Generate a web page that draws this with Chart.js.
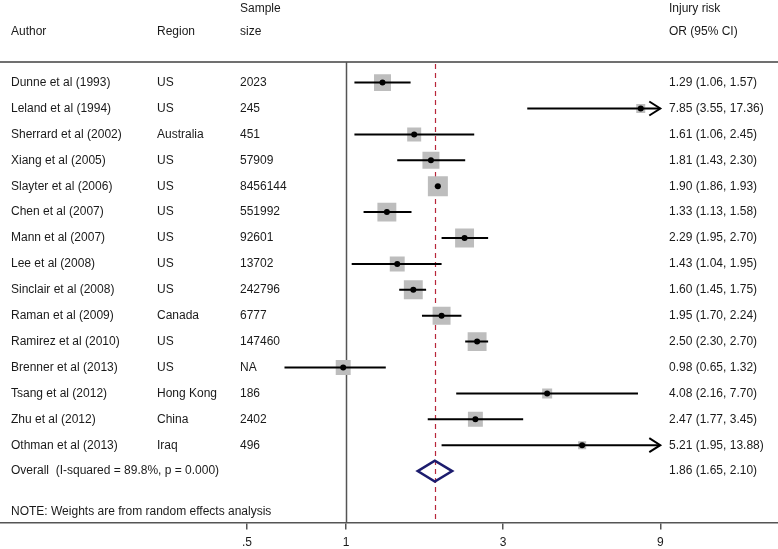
<!DOCTYPE html>
<html><head><meta charset="utf-8">
<script src="https://cdn.jsdelivr.net/npm/chart.js@4/dist/chart.umd.min.js"></script>
<style>html,body{margin:0;padding:0;background:#fff}#wrap{width:778px;height:549px;position:relative}canvas{display:block}</style>
</head><body><div id="wrap"><canvas id="c" width="778" height="549"></canvas></div>
<script>
// ---- data ----
const authors = ["Dunne et al (1993)","Leland et al (1994)","Sherrard et al (2002)","Xiang et al (2005)","Slayter et al (2006)","Chen et al (2007)","Mann et al (2007)","Lee et al (2008)","Sinclair et al (2008)","Raman et al (2009)","Ramirez et al (2010)","Brenner et al (2013)","Tsang et al (2012)","Zhu et al (2012)","Othman et al (2013)"];
const regions = ["US","US","Australia","US","US","US","US","US","US","Canada","US","US","Hong Kong","China","Iraq"];
const sampleSizes = ["2023","245","451","57909","8456144","551992","92601","13702","242796","6777","147460","NA","186","2402","496"];
const orEstimates = [1.29,7.85,1.61,1.81,1.90,1.33,2.29,1.43,1.60,1.95,2.50,0.98,4.08,2.47,5.21];
const ciLower = [1.06,3.55,1.06,1.43,1.86,1.13,1.95,1.04,1.45,1.70,2.30,0.65,2.16,1.77,1.95];
const ciUpper = [1.57,17.36,2.45,2.30,1.93,1.58,2.70,1.95,1.75,2.24,2.70,1.32,7.70,3.45,13.88];
const weights = [7.5,2.1,5.1,7.5,10.4,9.3,9.3,5.8,9.3,8.4,9.3,5.8,2.6,5.8,1.7];
const overallLabel = "Overall  (I-squared = 89.8%, p = 0.000)";
const overallEstimate = 1.86, overallLower = 1.65, overallUpper = 2.10;
const tickValues = [0.5, 1, 3, 9];
const tickLabels = [".5", "1", "3", "9"];
const noteText = "NOTE: Weights are from random effects analysis";
const axisClipMax = 9;

const FONT = '"Liberation Sans", Arial, Helvetica, sans-serif';
const fmt = (v) => v.toFixed(2);
const orText = orEstimates.map((e,i)=> `${fmt(e)} (${fmt(ciLower[i])}, ${fmt(ciUpper[i])})`);
const overallRow = authors.length;

const ciDatasets = authors.map((a,i)=>({
  type:'line', label:a,
  data:[{x:ciLower[i], y:i},{x:Math.min(ciUpper[i], axisClipMax), y:i}],
  borderColor:'#000', borderWidth:2, pointRadius:0, fill:false, order:2
}));

const boxDataset = {
  type:'scatter', label:'weights',
  data: orEstimates.map((e,i)=>({x:e, y:i})),
  pointStyle:'rect', backgroundColor:'#bdbdbd', borderWidth:0,
  pointRadius: weights.map(w => 6.2*Math.sqrt(w)/Math.SQRT2),
  order:3
};
const dotDataset = {
  type:'scatter', label:'estimates',
  data: orEstimates.map((e,i)=>({x:e, y:i})),
  pointStyle:'circle', backgroundColor:'#000', borderWidth:0, pointRadius:3,
  order:1
};

const forestPlugin = {
  id:'forest',
  beforeDatasetsDraw(chart){
    const {ctx, scales:{x,y}, chartArea} = chart;
    const topY = y.getPixelForValue(-0.8);
    ctx.save();
    // top rule
    ctx.strokeStyle = '#707070'; ctx.lineWidth = 2;
    ctx.beginPath(); ctx.moveTo(chartArea.left, topY); ctx.lineTo(chartArea.right, topY); ctx.stroke();
    // null line at 1
    const x1 = Math.round(x.getPixelForValue(1)) + 0.5;
    ctx.strokeStyle = '#555'; ctx.lineWidth = 1.5;
    ctx.beginPath(); ctx.moveTo(x1, topY); ctx.lineTo(x1, chartArea.bottom); ctx.stroke();
    // overall dashed line
    const xo = Math.round(x.getPixelForValue(overallEstimate)) + 0.5;
    ctx.strokeStyle = '#b8263a'; ctx.lineWidth = 1.2; ctx.setLineDash([5,4]);
    ctx.beginPath(); ctx.moveTo(xo, topY + 2); ctx.lineTo(xo, chartArea.bottom); ctx.stroke();
    ctx.restore();
  },
  afterDatasetsDraw(chart){
    const {ctx, scales:{x,y}} = chart;
    ctx.save();
    // arrows for clipped CIs
    ctx.strokeStyle = '#000'; ctx.lineWidth = 2;
    ciUpper.forEach((u,i)=>{
      if (u > axisClipMax){
        const tx = x.getPixelForValue(axisClipMax), ty = y.getPixelForValue(i);
        ctx.beginPath(); ctx.moveTo(tx-11, ty-7); ctx.lineTo(tx, ty); ctx.lineTo(tx-11, ty+7); ctx.stroke();
      }
    });
    // overall diamond
    const dy = y.getPixelForValue(overallRow);
    const xl = x.getPixelForValue(overallLower), xe = x.getPixelForValue(overallEstimate), xh = x.getPixelForValue(overallUpper);
    ctx.strokeStyle = '#1c1c6e'; ctx.lineWidth = 2.5; ctx.lineJoin = 'miter';
    ctx.beginPath(); ctx.moveTo(xl, dy); ctx.lineTo(xe, dy-10.5); ctx.lineTo(xh, dy); ctx.lineTo(xe, dy+10.5); ctx.closePath(); ctx.stroke();
    // texts
    ctx.fillStyle = '#1a1a1a'; ctx.font = '12px ' + FONT; ctx.textBaseline = 'middle'; ctx.textAlign = 'left';
    const colA = 11, colR = 157, colS = 240, colO = 669;
    const h1 = y.getPixelForValue(-2.87), h2 = y.getPixelForValue(-1.96);
    ctx.fillText('Sample', colS, h1);
    ctx.fillText('Injury risk', colO, h1);
    ctx.fillText('Author', colA, h2);
    ctx.fillText('Region', colR, h2);
    ctx.fillText('size', colS, h2);
    ctx.fillText('OR (95% CI)', colO, h2);
    authors.forEach((a,i)=>{
      const ry = y.getPixelForValue(i);
      ctx.fillText(a, colA, ry);
      ctx.fillText(regions[i], colR, ry);
      ctx.fillText(sampleSizes[i], colS, ry);
      ctx.fillText(orText[i], colO, ry);
    });
    ctx.fillText(overallLabel, colA, dy);
    ctx.fillText(`${fmt(overallEstimate)} (${fmt(overallLower)}, ${fmt(overallUpper)})`, colO, dy);
    ctx.fillText(noteText, colA, y.getPixelForValue(overallRow + 1.56));
    ctx.restore();
  }
};

new Chart(document.getElementById('c'), {
  type:'scatter',
  data:{ datasets:[boxDataset, ...ciDatasets, dotDataset] },
  options:{
    responsive:false, animation:false, events:[],
    layout:{ autoPadding:false, padding:{left:0,right:0,top:0,bottom:-6.8} },
    plugins:{ legend:{display:false}, tooltip:{enabled:false} },
    scales:{
      x:{
        type:'logarithmic', position:'bottom', min:0.0889, max:20.5,
        afterBuildTicks: s => { s.ticks = tickValues.map(v=>({value:v})); },
        ticks:{ autoSkip:false, maxRotation:0, padding:6, color:'#1a1a1a',
          font:{family:FONT, size:12},
          callback:(v)=> { const k = tickValues.indexOf(v); return k>=0 ? tickLabels[k] : ''; } },
        grid:{ drawOnChartArea:false, drawTicks:true, tickLength:7, color:'#555', lineWidth:1.5 },
        border:{ display:true, color:'#555', width:1.5 }
      },
      y:{ type:'linear', display:false, reverse:true, min:-3.19, max:16.98, offset:false }
    }
  },
  plugins:[forestPlugin]
});
</script>
</body></html>
